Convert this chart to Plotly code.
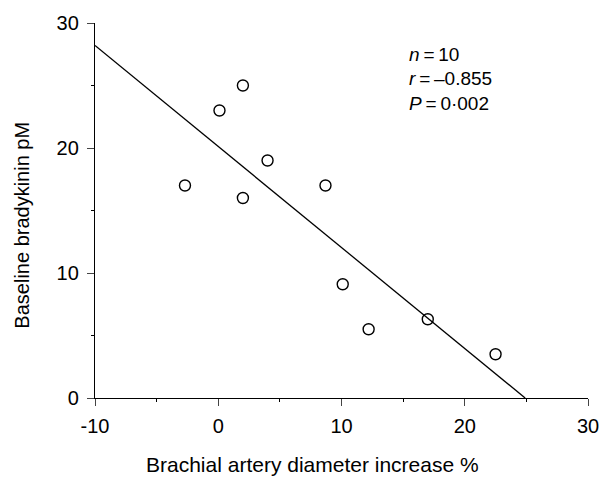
import plotly.graph_objects as go

# Data
diam_increase = [-2.7, 0.1, 2.0, 2.0, 4.0, 8.7, 10.1, 12.2, 17.0, 22.5]
bradykinin = [17.0, 23.0, 25.0, 16.0, 19.0, 17.0, 9.1, 5.5, 6.3, 3.5]
fit_x = [-10, 24.9]
fit_y = [28.2, 0.0]
x_ticks = [-10, 0, 10, 20, 30]
x_tick_labels = ["-10", "0", "10", "20", "30"]
y_ticks = [0, 10, 20, 30]
x_title = "Brachial artery diameter increase %"
y_title = "Baseline bradykinin pM"
stats_lines = ["<i>n</i>\u2009=\u200910", "<i>r</i>\u2009=\u2009\u20130.855", "<i>P</i>\u2009=\u20090\u00b7002"]
stats_y = [27.5, 25.55, 23.6]

FONT = "Liberation Sans, Arial, Helvetica, sans-serif"

fig = go.Figure()
fig.add_trace(go.Scatter(x=fit_x, y=fit_y, mode="lines",
                         line=dict(color="black", width=1.3),
                         showlegend=False, hoverinfo="skip"))
fig.add_trace(go.Scatter(x=diam_increase, y=bradykinin, mode="markers",
                         marker=dict(symbol="circle-open", size=11,
                                     color="black", line=dict(width=1.4, color="black")),
                         showlegend=False, cliponaxis=False))

fig.update_layout(
    width=611, height=477,
    margin=dict(l=95, r=14, t=18, b=79),
    paper_bgcolor="white", plot_bgcolor="white",
    font=dict(family=FONT, color="black", size=20),
    xaxis=dict(range=[-10, 30], tickvals=x_ticks, ticktext=x_tick_labels,
               ticks="outside", ticklen=7,
               tickwidth=1.2, showline=True, linecolor="black", linewidth=1.3,
               showgrid=False, zeroline=False, tickfont=dict(size=20),
               ticklabelstandoff=3,
               minor=dict(dtick=5, tick0=0, ticks="outside", ticklen=3, tickcolor="black")),
    yaxis=dict(range=[0, 30], tickvals=y_ticks, ticks="outside", ticklen=7,
               tickwidth=1.2, showline=True, linecolor="black", linewidth=1.3,
               showgrid=False, zeroline=False, tickfont=dict(size=20),
               ticklabelstandoff=4,
               minor=dict(dtick=5, tick0=0, ticks="outside", ticklen=3, tickcolor="black")),
)

# axis titles placed as in the reference
fig.add_annotation(x=(316 - 95) / 502, y=(398 - 465) / 380, xref="paper", yref="paper",
                   text=x_title, showarrow=False, xanchor="center", yanchor="middle",
                   font=dict(size=21, family=FONT))
fig.add_annotation(x=(21 - 95) / 502, y=(398 - 223) / 380, xref="paper", yref="paper",
                   text=y_title, showarrow=False, xanchor="center", yanchor="middle",
                   textangle=-90, font=dict(size=20, family=FONT))

for t, yv in zip(stats_lines, stats_y):
    fig.add_annotation(x=15.3, y=yv, xref="x", yref="y", text=t,
                       showarrow=False, xanchor="left", yanchor="middle",
                       font=dict(size=19, family=FONT))

fig.write_html("out.html")
